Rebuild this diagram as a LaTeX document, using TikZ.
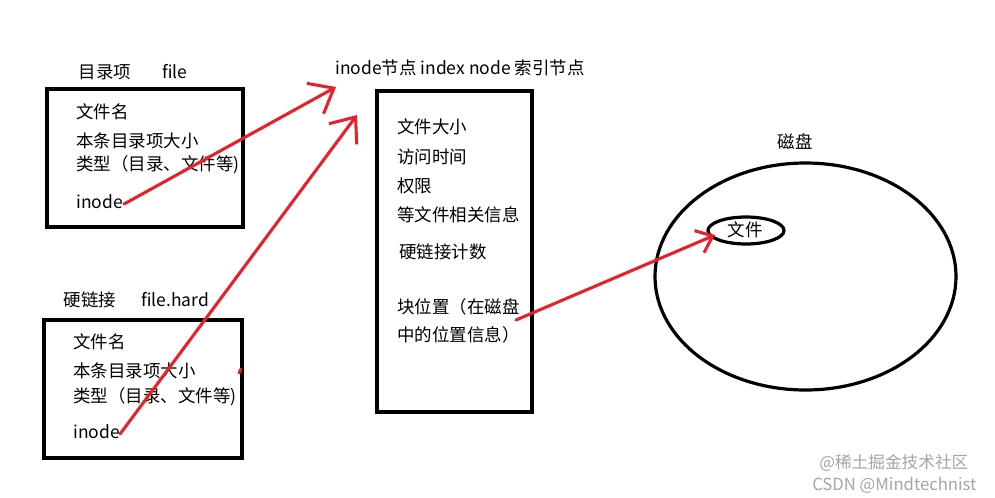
\documentclass[tikz,border=0pt]{standalone}
\usepackage{fontspec}
\setmainfont{Noto Sans CJK SC}
\usetikzlibrary{arrows.meta,shapes.geometric}
\definecolor{penred}{RGB}{232,32,42}
\definecolor{wmgray}{RGB}{165,165,165}
\begin{document}
\begin{tikzpicture}[x=0.75pt,y=-0.75pt,
  box/.style={draw=black,line width=2.4pt,rectangle,inner sep=0pt},
  oval/.style={draw=black,line width=2.4pt,ellipse,inner sep=0pt},
  txt/.style={anchor=west,inner sep=0pt,font=\fontsize{13.1pt}{15pt}\selectfont},
  ctxt/.style={inner sep=0pt,font=\fontsize{13.1pt}{15pt}\selectfont},
  redline/.style={draw=penred,line width=2.3pt,line cap=round},
  bigtip/.style={-{Straight Barb[length=16pt,width=26pt,line width=2.3pt]}},
  smalltip/.style={-{Straight Barb[length=11pt,width=18pt,line width=2.3pt]}},
  wm/.style={inner sep=0pt,text=wmgray,font=\fontsize{12.5pt}{13pt}\selectfont}
]
\useasboundingbox (0,0) rectangle (995,497);
\fill[white] (0,0) rectangle (995,497);

% directory entry box
\node[ctxt] (lab1) at (105,72) {目录项};
\node[ctxt] (lab1f) at (175,72) {file};
\node[box,minimum width=147pt,minimum height=103.5pt] (box1) at (145,158) {};
\node[txt] (b1a) at (76,112) {文件名};
\node[txt] (b1b) at (76,141) {本条目录项大小};
\node[txt] (b1c) at (76,165) {类型（目录、文件等)};
\node[txt] (b1d) at (76,202) {inode};

% hard link box
\node[ctxt] (lab2) at (90,300) {硬链接};
\node[ctxt] (lab2f) at (175,300) {file.hard};
\node[box,minimum width=148.5pt,minimum height=103.5pt] (box2) at (143,389) {};
\node[txt] (b2a) at (73,342) {文件名};
\node[txt] (b2b) at (73,371) {本条目录项大小};
\node[txt] (b2c) at (73,397) {类型（目录、文件等)};
\node[txt] (b2d) at (73,432) {inode};

% inode box
\node[txt] (ititle) at (335,68) {inode节点 index node 索引节点};
\node[box,minimum width=116.25pt,minimum height=240.75pt] (ibox) at (454.5,251.5) {};
\node[txt] (i1) at (397,127) {文件大小};
\node[txt] (i2) at (397,157) {访问时间};
\node[txt] (i3) at (397,186) {权限};
\node[txt] (i4) at (397,215) {等文件相关信息};
\node[txt] (i5) at (399,252) {硬链接计数};
\node[txt] (i6) at (397,307) {块位置（在磁盘};
\node[txt] (i7) at (397,335) {中的位置信息）};

% disk
\node[ctxt] (disklab) at (795,142) {磁盘};
\node[oval,minimum width=225.75pt,minimum height=170.25pt] (disk) at (805.5,276.5) {};
\node[oval,minimum width=57pt,minimum height=20.25pt] (file) at (746,230.5) {};
\node[ctxt] (filetxt) at (745,230) {文件};

% arrows
\coordinate (t1) at (336,87);
\coordinate (t2) at (357,115);
\coordinate (s3) at (516,320);
\coordinate (t3) at (715,235);
\draw[redline,bigtip] (b1d.east) ++(1,2) -- (t1);
\draw[redline,bigtip] (b2d.east) ++(0,2) -- (t2);
\draw[redline,smalltip] (s3) -- (t3);
\coordinate (m1) at (239,373);
\coordinate (m2) at (241,369);
\draw[redline] (m1) -- (m2);

% watermarks
\node[wm,anchor=west] (wm1) at (819,463) {@稀土掘金技术社区};
\node[wm,anchor=west] (wm2) at (812,485) {CSDN @Mindtechnist};
\end{tikzpicture}
\end{document}
